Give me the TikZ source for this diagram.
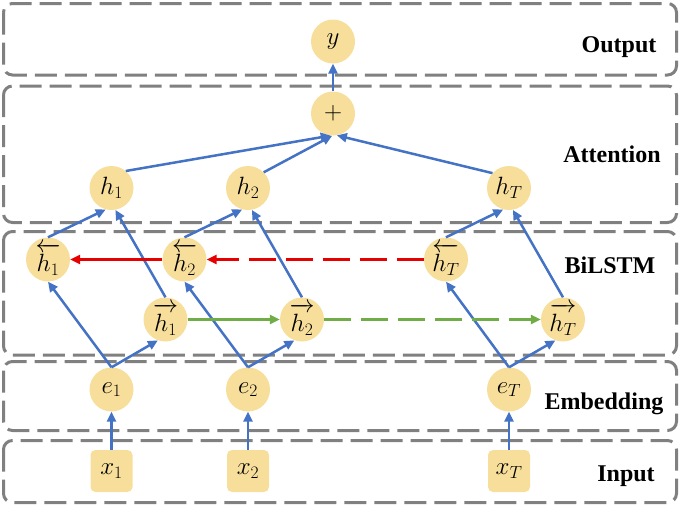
\RequirePackage{fix-cm}
\documentclass[tikz,border=0pt]{standalone}
\usepackage{fontspec}
\setmainfont{Liberation Serif}
\usetikzlibrary{arrows.meta}
\definecolor{cellfill}{RGB}{247,223,155}
\definecolor{linkblue}{RGB}{68,114,196}
\definecolor{backred}{RGB}{230,0,0}
\definecolor{fwdgreen}{RGB}{112,173,71}
\definecolor{layergray}{RGB}{128,128,128}
\newcommand{\bwd}[1]{\overleftarrow{#1\rule{0pt}{0.82em}}}
\newcommand{\fwd}[1]{\overrightarrow{#1\rule{0pt}{0.82em}}}
\tikzset{
    cell/.style={circle, fill=cellfill, minimum size=44pt, inner sep=0pt, font=\fontsize{25}{28}\selectfont},
    token/.style={rounded corners=5pt, fill=cellfill, minimum size=42pt, inner sep=0pt, font=\fontsize{25}{28}\selectfont},
    layer/.style={draw=layergray, line width=3pt, dash pattern=on 22pt off 8pt, rounded corners=9pt},
    layername/.style={anchor=base, font=\fontsize{24}{28}\selectfont\bfseries},
    link/.style={draw=linkblue, line width=2.5pt, -{Triangle[length=10pt,width=9pt]}},
    backlink/.style={draw=backred, line width=2.5pt, -{Triangle[length=10pt,width=9pt]}},
    fwdlink/.style={draw=fwdgreen, line width=2.5pt, -{Triangle[length=10pt,width=9pt]}},
    gap/.style={dash pattern=on 27pt off 10pt}
}
\begin{document}
\begin{tikzpicture}[x=1pt,y=-1pt]
            \useasboundingbox (0,0) rectangle (680,506);
            \draw[layer] (3.5,3.5) rectangle (676.5,75);
            \draw[layer] (3.5,86) rectangle (676.5,222.5);
            \draw[layer] (3.5,231.5) rectangle (676.5,355);
            \draw[layer] (3.5,361.5) rectangle (676.5,430.5);
            \draw[layer] (3.5,440.5) rectangle (676.5,502.5);
            \node[layername] (out) at (619,52.5) {Output};
            \node[layername] (att) at (612,162.5) {Attention};
            \node[layername] (bil) at (610,273) {BiLSTM};
            \node[layername] (emb) at (604,409) {Embedding};
            \node[layername] (inp) at (626,481) {Input};
            \node[cell] (y) at (333,41.5) {$y$};
            \node[cell] (sum) at (333,113.5) {$+$};
            \node[cell] (h1) at (111.5,188) {$h_1$};
            \node[cell] (h2) at (248,188) {$h_2$};
            \node[cell] (hT) at (509,188) {$h_T$};
            \node[cell] (bh1) at (48,259.5) {$\bwd{h_1}$};
            \node[cell] (bh2) at (184.5,259.5) {$\bwd{h_2}$};
            \node[cell] (bhT) at (446,259.5) {$\bwd{h_T}$};
            \node[cell] (fh1) at (165.5,319.5) {$\fwd{h_1}$};
            \node[cell] (fh2) at (302,319.5) {$\fwd{h_2}$};
            \node[cell] (fhT) at (563,319.5) {$\fwd{h_T}$};
            \node[cell] (e1) at (111.5,389.5) {$e_1$};
            \node[cell] (e2) at (248,389.5) {$e_2$};
            \node[cell] (eT) at (509,389.5) {$e_T$};
            \node[token] (x1) at (111.5,471) {$x_1$};
            \node[token] (x2) at (248,471) {$x_2$};
            \node[token] (xT) at (509,471) {$x_T$};
            \draw[link] (sum) -- (y);
            \draw[link] (h1.50) -- (sum.264);
            \draw[link] (h2.45) -- (sum.268);
            \draw[link] (hT.138) -- (sum.280);
            \foreach \t in {1,2,T}{
                \draw[link] (x\t) -- (e\t);
                \draw[link] (e\t.north) -- (bh\t.south);
                \draw[link] (e\t.north) -- (fh\t.250);
                \draw[link] (bh\t.north) -- (h\t.255);
                \draw[link] (fh\t.north) -- (h\t.280);
            }
            \draw[backlink] (bh2) -- (bh1);
            \draw[backlink, gap] (bhT) -- (bh2);
            \draw[fwdlink] (fh1) -- (fh2);
            \draw[fwdlink, gap] (fh2) -- (fhT);
        \end{tikzpicture}
\end{document}
